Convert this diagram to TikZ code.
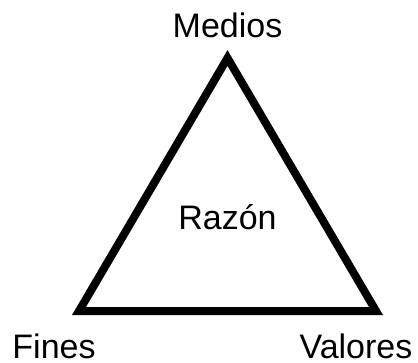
\documentclass[tikz,border=0pt]{standalone}
\usepackage{fontspec}
\setmainfont{Liberation Sans}
\usetikzlibrary{calc}

\begin{document}
\begin{tikzpicture}[x=1pt,y=1pt,
   label/.style={anchor=base,inner sep=0pt,font=\fontsize{34}{40}\selectfont}]

   \useasboundingbox (0,0) rectangle (418,362);

   \coordinate (c0) at (227.5,157);
   \coordinate (top) at ($(c0) + (0,147)$);
   \coordinate (left) at ($(c0) + (-148.5,-106)$);
   \coordinate (right) at ($(c0) + (148.5,-106)$);

   \draw[draw=black,line width=8pt,line join=miter] (top) -- (left) -- (right) -- cycle;

   \node[label] (medios) at ($(top) + (0,20)$) {Medios};
   \node[label] (razon) at ($(c0) + (0,-25)$) {Razón};
   \node[label] (fines) at ($(left) + (-25,-47)$) {Fines};
   \node[label] (valores) at ($(right) + (-20,-47)$) {Valores};

\end{tikzpicture}
\end{document}
